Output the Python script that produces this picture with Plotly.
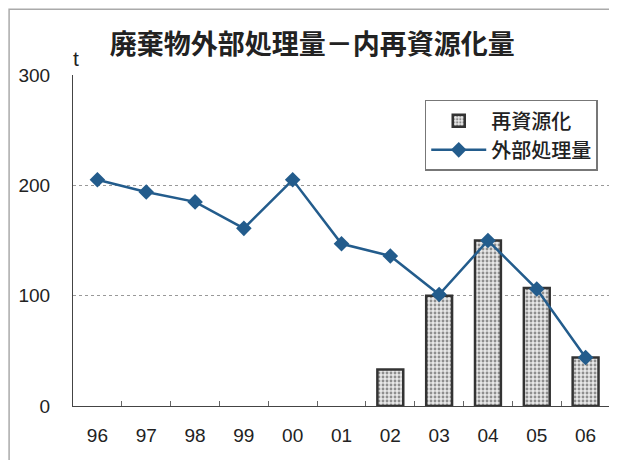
import plotly.graph_objects as go

# years and values
years = ["96", "97", "98", "99", "00", "01", "02", "03", "04", "05", "06"]
outside_total = [205, 194, 185, 161, 205, 147, 136, 101, 150, 106, 44]
recycle_years = ["02", "03", "04", "05", "06"]
recycled = [33, 100, 150, 107, 44]

jp_font = "Noto Sans CJK JP"
num_font = "Liberation Sans"

fig = go.Figure()

fig.add_trace(go.Bar(
    x=recycle_years,
    y=recycled,
    name="再資源化",
    width=0.53,
    marker=dict(
        color="#e6e6e6",
        line=dict(color="#333333", width=2.5),
        pattern=dict(shape=".", fgcolor="#333333", bgcolor="#e8e8e8", size=4, solidity=0.4),
    ),
))

fig.add_trace(go.Scatter(
    x=years,
    y=outside_total,
    name="外部処理量",
    mode="lines+markers",
    line=dict(color="#235c8c", width=2.5),
    marker=dict(symbol="diamond", size=12, color="#235c8c"),
))

fig.update_layout(
    width=617,
    height=460,
    paper_bgcolor="white",
    plot_bgcolor="white",
    margin=dict(l=65, r=15, t=67, b=62, autoexpand=False),
    title=dict(
        text="廃棄物外部処理量－内再資源化量",
        x=0.493, xanchor="center", y=0.92, yanchor="middle",
        font=dict(family=jp_font, size=27, color="#222222", weight=700),
    ),
    showlegend=True,
    legend=dict(
        x=0.655, y=0.925, xanchor="left", yanchor="top",
        bgcolor="white", bordercolor="#777777", borderwidth=1.5,
        font=dict(family=jp_font, size=20, color="#222222", weight=500),
        traceorder="normal",
        itemwidth=55,
        tracegroupgap=0,
    ),
    xaxis=dict(
        type="category",
        categoryorder="array",
        categoryarray=years,
        range=[-0.5, 10.5],
        automargin=False,
        showline=True, linecolor="#444444", linewidth=1.2,
        ticks="inside", tickson="boundaries", ticklen=5, tickcolor="#666666",
        showgrid=False,
        ticklabelstandoff=12,
        tickfont=dict(family=num_font, size=19, color="#222222"),
    ),
    yaxis=dict(
        range=[0, 300],
        tickvals=[0, 100, 200, 300],
        automargin=False,
        showline=True, linecolor="#444444", linewidth=1.2,
        showgrid=True, gridcolor="#999999", griddash="dot", gridwidth=1,
        zeroline=False,
        ticks="", ticklabelstandoff=18,
        tickfont=dict(family=num_font, size=19, color="#222222"),
    ),
    annotations=[dict(
        text="t", x=-0.003, y=1.01, xref="paper", yref="paper",
        xanchor="left", yanchor="bottom", showarrow=False,
        font=dict(family=num_font, size=21, color="#222222"),
    )],
    shapes=[dict(
        type="rect", xref="paper", yref="paper",
        x0=-0.119, x1=1.1, y0=-0.3, y1=1.199,
        line=dict(color="#aaaaaa", width=1.5), layer="below",
    )],
)

fig.write_html("out.html")
